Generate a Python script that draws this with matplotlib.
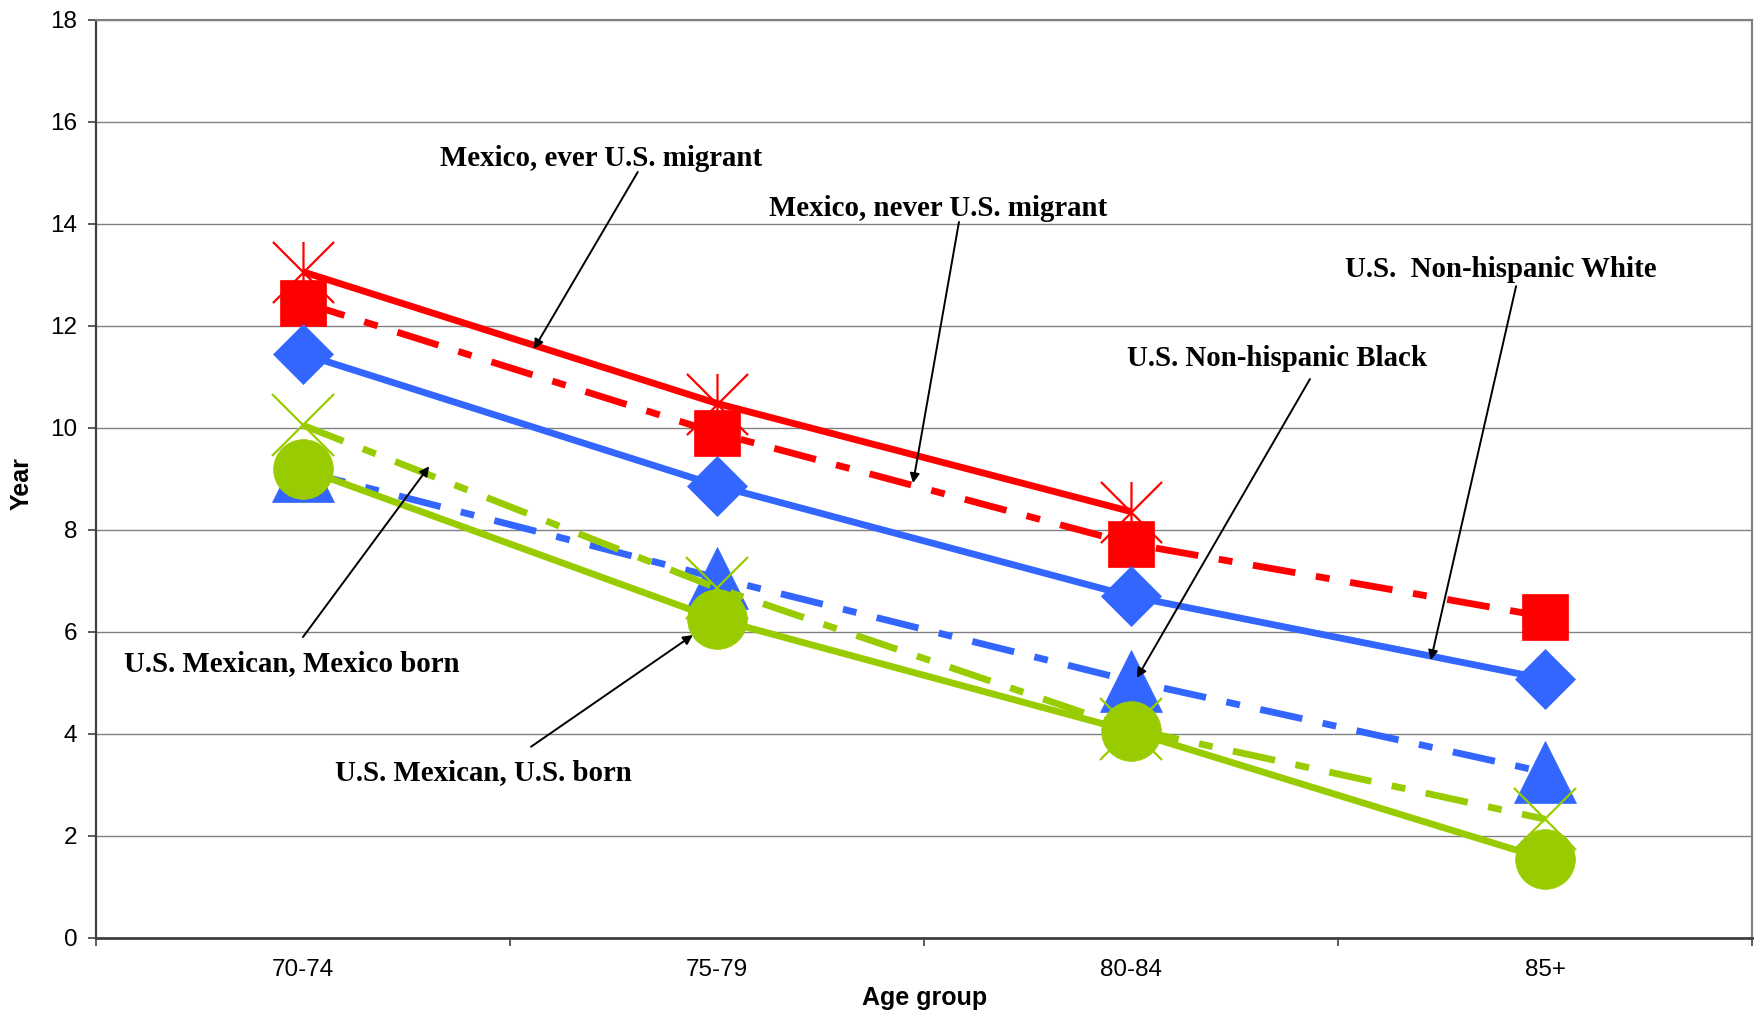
import numpy as np
import matplotlib
matplotlib.use("Agg")
import matplotlib.pyplot as plt
from matplotlib.path import Path

# ---------------- data ----------------
age_groups = ["70-74", "75-79", "80-84", "85+"]
mexico_ever_migrant = [13.06, 10.48, 8.36, np.nan]
mexico_never_migrant = [12.46, 9.90, 7.73, 6.30]
us_nh_white = [11.45, 8.87, 6.70, 5.08]
us_nh_black = [9.15, 7.06, 5.04, 3.25]
us_mexican_mexico_born = [10.05, 6.86, 4.10, 2.33]
us_mexican_us_born = [9.20, 6.25, 4.05, 1.55]
y_ticks = [0, 2, 4, 6, 8, 10, 12, 14, 16, 18]

# ---------------- style ----------------
RED = "#FF0000"
BLUE = "#3366FF"
GREEN = "#99CC00"
plt.rcParams["lines.scale_dashes"] = False
DASHDOT = (0, (31, 15, 10, 15))
LW = 4.9

asterisk = Path(
    [(-0.5, -0.5), (0.5, 0.5), (-0.5, 0.5), (0.5, -0.5), (0, -0.5), (0, 0.5)],
    [Path.MOVETO, Path.LINETO, Path.MOVETO, Path.LINETO, Path.MOVETO, Path.LINETO],
)

W, H = 1758, 1015
fig = plt.figure(figsize=(W / 100, H / 100), dpi=100)
left, right, top, bottom = 96.4, 1752, 20, 938
ax = fig.add_axes([left / W, 1 - bottom / H, (right - left) / W, (bottom - top) / H])

x = np.arange(len(age_groups)) + 0.5

common = dict(lw=LW, solid_capstyle="butt", dash_capstyle="butt")
ax.plot(x, mexico_ever_migrant, color=RED, marker=asterisk, ms=44, mew=1.6,
        mfc="none", mec=RED, zorder=3, **common)
ax.plot(x, mexico_never_migrant, color=RED, linestyle=DASHDOT, marker="s", ms=33.6,
        mfc=RED, mec=RED, mew=0.5, zorder=4, **common)
ax.plot(x, us_nh_white, color=BLUE, marker="D", ms=30.5, mfc=BLUE, mec=BLUE,
        mew=0.5, zorder=5, **common)
ax.plot(x, us_nh_black, color=BLUE, linestyle=DASHDOT, marker="^", ms=44,
        mfc=BLUE, mec=BLUE, mew=0.5, zorder=6, **common)
ax.plot(x, us_mexican_mexico_born, color=GREEN, linestyle=DASHDOT, marker="x", ms=44,
        mew=1.6, mec=GREEN, zorder=7, **common)
ax.plot(x, us_mexican_us_born, color=GREEN, marker="o", ms=43, mfc=GREEN, mec=GREEN,
        mew=0.5, zorder=8, **common)

# ---------------- axes ----------------
ax.set_xlim(0, len(age_groups))
ax.set_ylim(0, 18)
ax.set_yticks(y_ticks)
ax.set_xticks(np.arange(len(age_groups) + 1))
ax.set_xticklabels([])
ax.set_xticks(x, minor=True)
ax.set_xticklabels(age_groups, minor=True)
ax.tick_params(axis="x", which="major", direction="out", length=6, width=1.2, color="#404040")
ax.tick_params(axis="x", which="minor", length=0, pad=15, labelsize=17.5)
ax.tick_params(axis="y", direction="out", length=5.8, width=1.2, color="#404040",
               pad=8, labelsize=17.5)
for lab in ax.get_xticklabels(minor=True) + ax.get_yticklabels():
    lab.set_family("Liberation Sans")

ax.yaxis.grid(True, color="#808080", lw=1.0, zorder=0)
ax.set_axisbelow(True)
ax.spines["left"].set_color("#404040")
ax.spines["left"].set_linewidth(1.6)
ax.spines["bottom"].set_color("#404040")
ax.spines["bottom"].set_linewidth(2.0)
ax.spines["top"].set_color("#808080")
ax.spines["top"].set_linewidth(1.5)
ax.spines["right"].set_color("#808080")
ax.spines["right"].set_linewidth(1.5)

ax.set_xlabel("Age group", fontsize=18, fontweight="bold", family="Liberation Sans")
ax.xaxis.set_label_coords(0.5, -0.0654)
ax.xaxis.label.set_va("center")
ax.set_ylabel("Year", fontsize=18, fontweight="bold", family="Liberation Sans")
ax.yaxis.set_label_coords(-0.0449, 0.4946)
ax.yaxis.label.set_va("center")

# ---------------- annotations ----------------
annotations = [
    ("Mexico, ever U.S. migrant", (1.219, 15.29), (1.308, 15.02), (1.057, 11.55)),
    ("Mexico, never U.S. migrant", (2.033, 14.30), (2.084, 14.04), (1.973, 8.92)),
    ("U.S.  Non-hispanic White", (3.393, 13.10), (3.430, 12.78), (3.224, 5.45)),
    ("U.S. Non-hispanic Black", (2.852, 11.37), (2.932, 10.96), (2.514, 5.10)),
    ("U.S. Mexican, Mexico born", (0.473, 5.39), (0.499, 5.90), (0.804, 9.25)),
    ("U.S. Mexican, U.S. born", (0.934, 3.25), (1.050, 3.75), (1.441, 5.94)),
]
for text, tpos, start, tip in annotations:
    ax.text(tpos[0], tpos[1], text, ha="center", va="center", fontsize=20.8,
            fontweight="bold", family="Liberation Serif", zorder=10)
    ax.annotate("", xy=tip, xytext=start, textcoords="data",
                arrowprops=dict(arrowstyle="-|>", color="black", lw=1.4,
                                mutation_scale=14, shrinkA=0, shrinkB=0),
                zorder=10)

fig.savefig("out.png", dpi=100, facecolor="white")
